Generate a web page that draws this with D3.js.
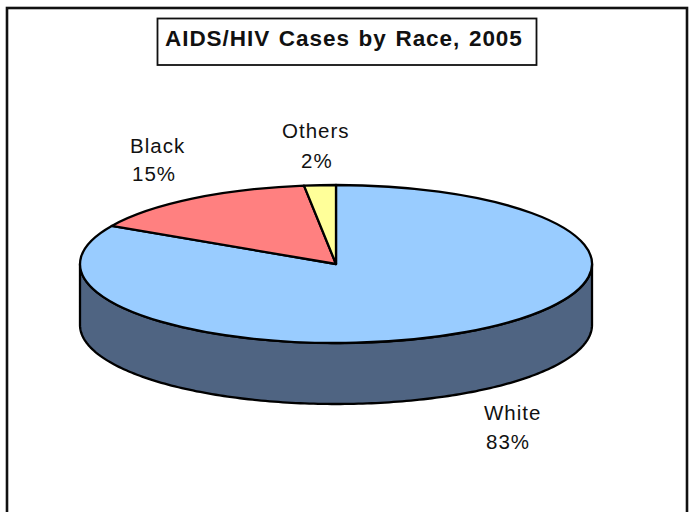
<!DOCTYPE html>
<html><head><meta charset="utf-8">
<script src="https://cdn.jsdelivr.net/npm/d3@7"></script>
<style>html,body{margin:0;padding:0;background:#fff}svg{display:block}text{font-family:"Liberation Sans",Arial,sans-serif;fill:#111}</style>
</head><body><svg id="c" width="691" height="512"></svg>
<script>
const categories=["White","Black","Others"];
const values=[83,15,2];
const colors=["#99ccff","#ff8080","#ffff99"];
const labelPos=[[484,420,486,449],[130,153,132,181],[282,138,301,168]];
const title="AIDS/HIV Cases by Race, 2005";
const svg=d3.select("#c");
svg.append("rect").attr("x",7).attr("y",8).attr("width",680).attr("height",520).attr("fill","#fff").attr("stroke","#111").attr("stroke-width",2.6);
svg.append("rect").attr("x",157.5).attr("y",18.5).attr("width",379).attr("height",46.5).attr("fill","#fff").attr("stroke","#111").attr("stroke-width",1.8);
svg.append("text").attr("x",165).attr("y",46).attr("font-size",22.5).attr("font-weight","bold").attr("letter-spacing",0.95).attr("word-spacing",1.5).text(title);
const x=d3.scaleLinear().domain([-1,1]).range([80,592]);
const y=d3.scaleLinear().domain([-1,1]).range([185,343]);
const depth=61;
const slices=d3.pie().sort(null).value((d,i)=>values[i])(values);
const pt=a=>[x(Math.sin(a)),y(-Math.cos(a))];
const lineGen=d3.line();
const steps=d3.range(0,181).map(i=>Math.PI/2+i*Math.PI/180);
const wall=[...steps.map(pt),...steps.slice().reverse().map(a=>{const p=pt(a);return [p[0],p[1]+depth]})];
const g=svg.append("g");
g.append("path").attr("d",lineGen(wall)+"Z").attr("fill","#4f6482").attr("stroke","#000").attr("stroke-width",2.3).attr("stroke-linejoin","round");
const arc=d3.arc().innerRadius(0).outerRadius(1);
g.selectAll("path.s").data(slices).join("path").attr("class","s")
 .attr("transform",`translate(${x(0)},${y(0)}) scale(${(x(1)-x(-1))/2},${(y(1)-y(-1))/2})`)
 .attr("d",arc).attr("fill",(d,i)=>colors[i]).attr("stroke","#000").attr("stroke-width",2.3)
 .attr("stroke-linejoin","round").attr("vector-effect","non-scaling-stroke");
categories.forEach((c,i)=>{
 const t=svg.append("text").attr("font-size",20.5).attr("letter-spacing",1);
 t.append("tspan").attr("x",labelPos[i][0]).attr("y",labelPos[i][1]).text(c);
 t.append("tspan").attr("x",labelPos[i][2]).attr("y",labelPos[i][3]).text(values[i]+"%");
});
</script></body></html>
